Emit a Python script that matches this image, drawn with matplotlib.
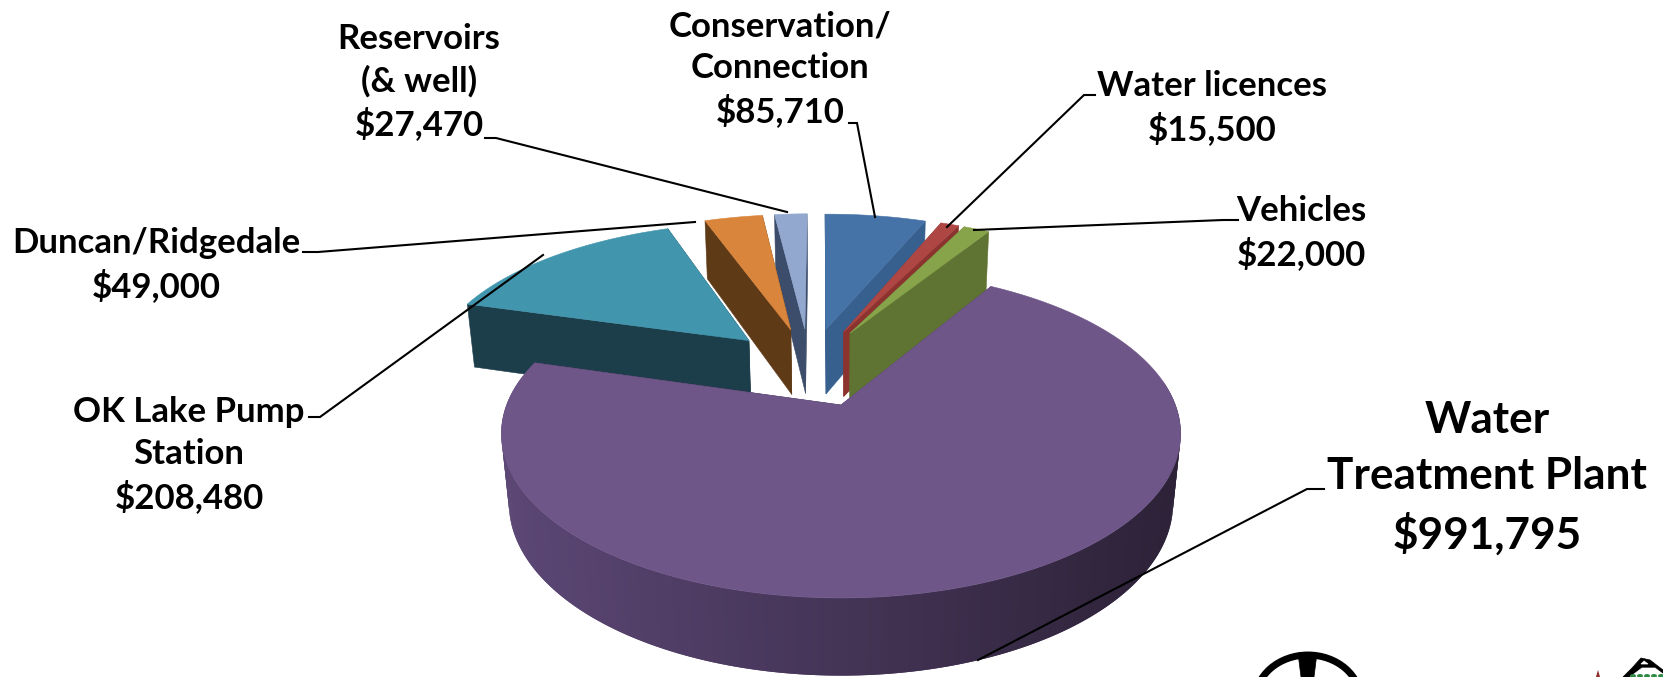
import numpy as np
import matplotlib
matplotlib.use("Agg")
import matplotlib.pyplot as plt
from matplotlib.patches import Polygon, Ellipse

# capital budget items, clockwise from 12 o'clock
names = ["Conservation/\nConnection", "Water licences", "Vehicles",
         "Water\nTreatment Plant", "OK Lake Pump\nStation",
         "Duncan/Ridgedale", "Reservoirs\n(& well)"]
values = [85710, 15500, 22000, 991795, 208480, 49000, 27470]
top_colors = ["#4673A7", "#AE4744", "#87A44B", "#6F5689", "#4196AE", "#D9853C", "#92A8CE"]
side_colors = ["#38608F", "#8C3330", "#5F7433", "#3F2F52", "#1C3D4A", "#5F3A17", "#3C4D6B"]

# label centres, in pixels
label_x = [780, 1212, 1301, 1487, 189, 156, 419]
label_y = [69, 108, 233, 478, 455, 265, 82]
label_size = [25, 25, 25, 31.8, 25, 25, 25]

# leader lines, in pixels
leaders = [
    [(849, 123), (857, 123), (875, 217)],
    [(1095, 95), (1084, 95), (947, 227)],
    [(1238, 220), (1223, 220), (974, 230)],
    [(1324, 489), (1307, 489), (978, 660)],
    [(309, 417), (320, 417), (543, 255)],
    [(303, 252), (318, 252), (695, 222)],
    [(485, 138), (496, 138), (787, 212)],
]

# projection of the pie plane
X0, Y0 = 841, 405
A, B = 334.4, 159.2
PERSP = 0.175
DEPTH = 70
SHRINK = 0.022
EXPLODE = 0.27
START = np.radians(-0.6)


def project(x, y, d=0.0):
    w = 1 + PERSP * y + SHRINK * d
    return X0 + A * x / w, Y0 + (-B * y + DEPTH * d) / w


def wall(x, y):
    # quad strip between the top and bottom edge of a run of points
    tx, ty = project(x, y, 0)
    bx, by = project(x, y, 1)
    return np.column_stack([np.r_[tx, bx[::-1]], np.r_[ty, by[::-1]]])


fig = plt.figure(figsize=(16.63, 6.77), dpi=100)
plt.rcParams["font.family"] = ["Lato", "DejaVu Sans"]
ax = fig.add_axes([0, 0, 1, 1])
ax.set_xlim(0, 1663)
ax.set_ylim(677, 0)
ax.axis("off")

sweeps = np.array(values) / sum(values) * 2 * np.pi
starts = START + np.r_[0, np.cumsum(sweeps)[:-1]]
mids = starts + sweeps / 2

# the purple slice sits at the origin of the plane
big = int(np.argmax(values))
cx = -EXPLODE * np.sin(mids[big])
cy = -EXPLODE * np.cos(mids[big])

# far slices first
order = sorted(range(len(values)), key=lambda i: -np.cos(mids[i]))
for i in order:
    ox = cx + EXPLODE * np.sin(mids[i])
    oy = cy + EXPLODE * np.cos(mids[i])
    t = np.linspace(starts[i], starts[i] + sweeps[i], max(int(np.degrees(sweeps[i])), 8) + 1)
    arc_x = ox + np.sin(t)
    arc_y = oy + np.cos(t)
    # cut faces
    for k in (0, -1):
        face = wall(np.array([ox, arc_x[k]]), np.array([oy, arc_y[k]]))
        ax.add_patch(Polygon(face, fc=side_colors[i], ec=side_colors[i], lw=0.4))
    # outer wall, shaded left to right on the big slice; segments overlap to hide seams
    for k in range(len(t) - 1):
        if np.cos(t[k]) > 0.17:
            continue
        px, _ = project(arc_x[k], arc_y[k])
        f = np.clip((px - 505) / 670, 0, 1)
        if i == big:
            col = tuple((1 - f) * np.array([0x5C, 0x47, 0x75]) / 255 + f * np.array([0x2D, 0x22, 0x38]) / 255)
        else:
            col = side_colors[i]
        seg = wall(arc_x[k:k + 3], arc_y[k:k + 3])
        ax.add_patch(Polygon(seg, fc=col, ec="none"))
    # top
    tx, ty = project(np.r_[ox, arc_x], np.r_[oy, arc_y])
    ax.add_patch(Polygon(np.column_stack([tx, ty]), fc=top_colors[i], ec=top_colors[i], lw=0.4))

for pts in leaders:
    xs, ys = zip(*pts)
    ax.plot(xs, ys, color="black", lw=1.5, solid_joinstyle="miter")

for name, v, x, y, s in zip(names, values, label_x, label_y, label_size):
    ax.text(x, y, f"{name}\n${v:,}", ha="center", va="center", fontsize=s,
            fontweight="bold", color="black", linespacing=1.36 if s < 30 else 1.46)

# logo corners poking in at the bottom edge
ax.add_patch(Ellipse((1308, 701), 106, 92, fc="none", ec="black", lw=5))
ax.add_patch(Polygon([(1298, 653), (1317, 653), (1314, 677), (1301, 677)], fc="black", ec="black", lw=0.5))
ax.add_patch(Polygon([(1623, 677), (1632, 668), (1641, 658), (1650, 660), (1663, 670), (1663, 677)],
                     fc="black", ec="black", lw=0.5))
ax.add_patch(Polygon([(1630, 677), (1642, 668), (1655, 668), (1663, 674), (1663, 677)], fc="white", ec="white", lw=0.5))
ax.add_patch(Polygon([(1641, 664), (1644, 661), (1648, 664)], fc="white", ec="white", lw=0.5))
for gx in (1633, 1640, 1647, 1654, 1661):
    ax.add_patch(Ellipse((gx, 676), 6, 4, fc="#2E8B45", ec="none"))
ax.add_patch(Polygon([(1596, 677), (1598, 670), (1600, 677)], fc="#8E2A2A", ec="none"))

fig.savefig("out.png", dpi=100, facecolor="white")
